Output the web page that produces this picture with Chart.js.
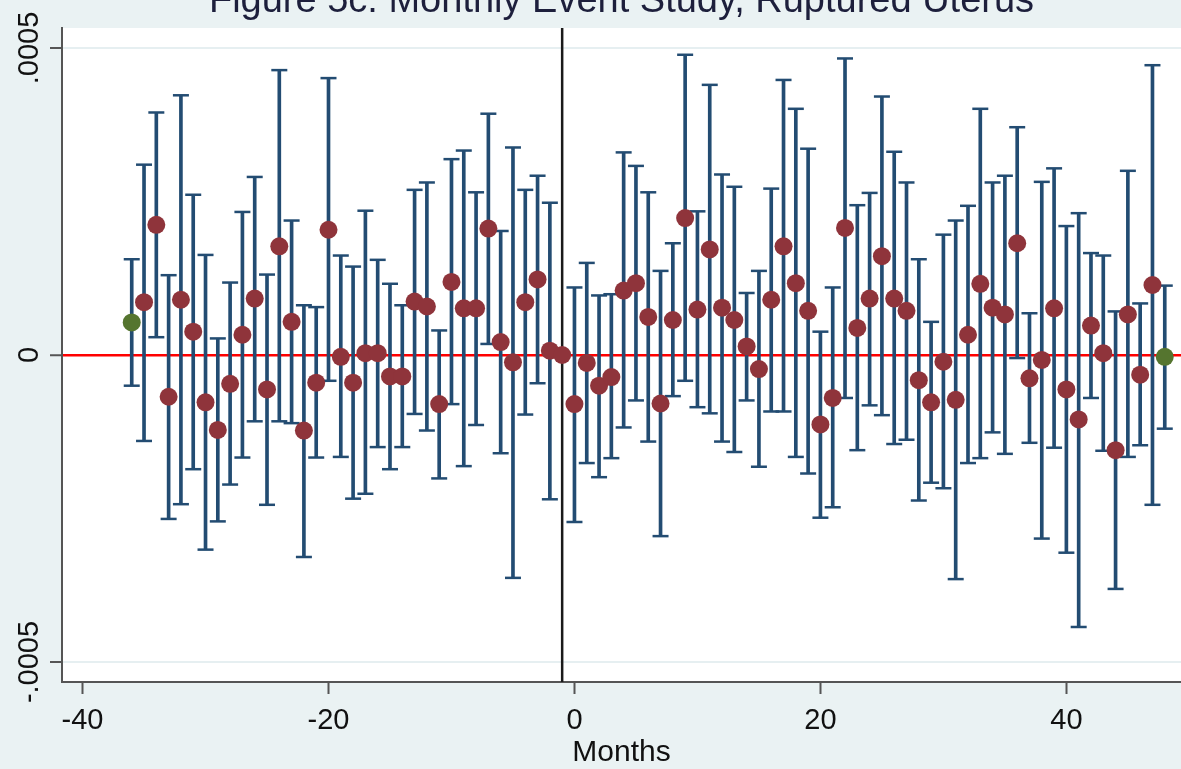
<!DOCTYPE html>
<html>
<head>
<meta charset="utf-8">
<script src="https://cdn.jsdelivr.net/npm/chart.js@4.4.1/dist/chart.umd.min.js"></script>
<style>
  html, body { margin: 0; padding: 0; background: #eaf2f3; overflow: hidden; }
  #wrap { width: 1181px; height: 769px; overflow: hidden; }
  canvas { display: block; margin-top: -21px; }
</style>
</head>
<body>
<div id="wrap"><canvas id="myChart" width="1181" height="790"></canvas></div>
<script>
const FONT = '"Liberation Sans", Arial, sans-serif';

// months relative to the event
const months = [
  -36, -35, -34, -33, -32, -31, -30, -29, -28, -27, -26, -25, -24, -23, -22, -21, -20,
  -19, -18, -17, -16, -15, -14, -13, -12, -11, -10, -9, -8, -7, -6, -5, -4, -3, -2, -1,
  0, 1, 2, 3, 4, 5, 6, 7, 8, 9, 10, 11, 12, 13, 14, 15, 16, 17, 18, 19, 20,
  21, 22, 23, 24, 25, 26, 27, 28, 29, 30, 31, 32, 33, 34, 35, 36, 37, 38, 39, 40,
  41, 42, 43, 44, 45, 46, 47, 48
];

// point estimates
const coef = [
  0.53e-4, 0.86e-4, 2.12e-4, -0.68e-4, 0.90e-4, 0.38e-4, -0.77e-4, -1.22e-4, -0.47e-4, 0.33e-4, 0.92e-4, -0.56e-4, 1.77e-4, 0.54e-4, -1.23e-4, -0.45e-4, 2.04e-4,
  -0.03e-4, -0.45e-4, 0.03e-4, 0.03e-4, -0.35e-4, -0.35e-4, 0.87e-4, 0.79e-4, -0.80e-4, 1.19e-4, 0.76e-4, 0.76e-4, 2.06e-4, 0.21e-4, -0.12e-4, 0.86e-4, 1.23e-4, 0.07e-4, 0,
  -0.80e-4, -0.13e-4, -0.50e-4, -0.36e-4, 1.05e-4, 1.17e-4, 0.62e-4, -0.79e-4, 0.57e-4, 2.23e-4, 0.74e-4, 1.72e-4, 0.77e-4, 0.57e-4, 0.14e-4, -0.23e-4, 0.90e-4, 1.77e-4, 1.17e-4, 0.72e-4, -1.13e-4,
  -0.70e-4, 2.07e-4, 0.44e-4, 0.92e-4, 1.61e-4, 0.92e-4, 0.72e-4, -0.41e-4, -0.77e-4, -0.11e-4, -0.73e-4, 0.33e-4, 1.16e-4, 0.77e-4, 0.66e-4, 1.82e-4, -0.38e-4, -0.08e-4, 0.76e-4, -0.56e-4,
  -1.05e-4, 0.48e-4, 0.03e-4, -1.55e-4, 0.66e-4, -0.32e-4, 1.14e-4, -0.03e-4
];

// 95% CI upper bounds (null = reference month, no interval)
const upper = [
  1.56e-4, 3.10e-4, 3.95e-4, 1.30e-4, 4.23e-4, 2.61e-4, 1.63e-4, 0.27e-4, 1.18e-4, 2.33e-4, 2.90e-4, 1.31e-4, 4.64e-4, 2.19e-4, 0.81e-4, 0.78e-4, 4.51e-4,
  1.62e-4, 1.44e-4, 2.35e-4, 1.55e-4, 1.16e-4, 0.81e-4, 2.69e-4, 2.81e-4, 0.40e-4, 3.19e-4, 3.33e-4, 2.65e-4, 3.93e-4, 2.02e-4, 3.38e-4, 2.69e-4, 2.92e-4, 2.48e-4, null,
  1.10e-4, 1.50e-4, 0.97e-4, 0.99e-4, 3.30e-4, 3.08e-4, 2.65e-4, 1.37e-4, 1.82e-4, 4.89e-4, 2.34e-4, 4.40e-4, 2.94e-4, 2.74e-4, 1.01e-4, 1.37e-4, 2.71e-4, 4.48e-4, 4.01e-4, 3.36e-4, 0.38e-4,
  1.10e-4, 4.83e-4, 2.44e-4, 2.64e-4, 4.21e-4, 3.31e-4, 2.81e-4, 1.56e-4, 0.54e-4, 1.96e-4, 2.19e-4, 2.43e-4, 4.01e-4, 2.81e-4, 2.92e-4, 3.71e-4, 0.68e-4, 2.82e-4, 3.04e-4, 2.10e-4,
  2.31e-4, 1.66e-4, 1.62e-4, 0.71e-4, 3.00e-4, 0.84e-4, 4.72e-4, 1.13e-4
];

// 95% CI lower bounds
const lower = [
  -0.50e-4, -1.40e-4, 0.29e-4, -2.67e-4, -2.43e-4, -1.86e-4, -3.17e-4, -2.71e-4, -2.11e-4, -1.67e-4, -1.08e-4, -2.44e-4, -1.08e-4, -1.11e-4, -3.29e-4, -1.67e-4, -0.42e-4,
  -1.66e-4, -2.34e-4, -2.26e-4, -1.50e-4, -1.86e-4, -1.50e-4, -0.96e-4, -1.23e-4, -2.01e-4, -0.80e-4, -1.81e-4, -1.14e-4, 0.18e-4, -1.60e-4, -3.63e-4, -0.97e-4, -0.46e-4, -2.35e-4, null,
  -2.72e-4, -1.76e-4, -1.99e-4, -1.68e-4, -1.18e-4, -0.74e-4, -1.41e-4, -2.95e-4, -0.67e-4, -0.42e-4, -0.85e-4, -0.95e-4, -1.41e-4, -1.58e-4, -0.74e-4, -1.82e-4, -0.92e-4, -0.92e-4, -1.66e-4, -1.93e-4, -2.65e-4,
  -2.48e-4, -0.70e-4, -1.55e-4, -0.82e-4, -0.98e-4, -1.45e-4, -1.38e-4, -2.37e-4, -2.08e-4, -2.17e-4, -3.65e-4, -1.76e-4, -1.68e-4, -1.26e-4, -1.61e-4, -0.05e-4, -1.43e-4, -2.99e-4, -1.51e-4, -3.22e-4,
  -4.43e-4, -0.70e-4, -1.56e-4, -3.81e-4, -1.66e-4, -1.47e-4, -2.44e-4, -1.20e-4
];

// binned end points are shown in green
const binnedMonths = [-36, 48];
const eventLine = -1;

const xTicks = [-40, -20, 0, 20, 40];
const yTicks = [-0.0005, 0, 0.0005];
const yTickLabels = ['-.0005', '0', '.0005'];

const navy = '#234c72';
const maroon = '#8f343b';
const green = '#55752f';

const withCI = months.map((m, i) => i).filter(i => upper[i] !== null);

const barData = withCI.map(i => ({ x: months[i], y: [lower[i], upper[i]] }));
const capData = withCI.flatMap(i => [{ x: months[i], y: lower[i] }, { x: months[i], y: upper[i] }]);
const pointData = months.map((m, i) => ({ x: m, y: coef[i] }));
const pointColors = months.map(m => binnedMonths.includes(m) ? green : maroon);

// white plot region on the grey-blue page
const plotBackground = {
  id: 'plotBackground',
  beforeDraw(chart) {
    const { ctx, chartArea: a } = chart;
    ctx.save();
    ctx.fillStyle = '#ffffff';
    ctx.fillRect(a.left, a.top, a.right - a.left, a.bottom - a.top);
    ctx.restore();
  }
};

// xline(-1)
const eventMarker = {
  id: 'eventMarker',
  beforeDatasetsDraw(chart) {
    const { ctx, chartArea: a, scales: { x } } = chart;
    const px = x.getPixelForValue(eventLine);
    ctx.save();
    ctx.strokeStyle = '#1a1a1a';
    ctx.lineWidth = 2.5;
    ctx.beginPath();
    ctx.moveTo(px, a.top);
    ctx.lineTo(px, a.bottom);
    ctx.stroke();
    ctx.restore();
  }
};

// Stata style vertical y labels
const rotatedYLabels = {
  id: 'rotatedYLabels',
  afterDraw(chart) {
    const { ctx, scales: { y } } = chart;
    ctx.save();
    ctx.font = '29px ' + FONT;
    ctx.fillStyle = '#111';
    ctx.textAlign = 'center';
    ctx.textBaseline = 'alphabetic';
    y.ticks.forEach(t => {
      ctx.save();
      ctx.translate(y.left + 38, y.getPixelForValue(t.value));
      ctx.rotate(-Math.PI / 2);
      ctx.fillText(yTickLabels[yTicks.indexOf(t.value)], 0, 0);
      ctx.restore();
    });
    ctx.restore();
  }
};

const ctx = document.getElementById('myChart').getContext('2d');

const myChart = new Chart(ctx, {
  type: 'scatter',
  data: {
    datasets: [
      {
        type: 'bar',
        data: barData,
        backgroundColor: navy,
        borderWidth: 0,
        barThickness: 3,
        grouped: false,
        order: 4
      },
      {
        data: capData,
        pointStyle: 'line',
        radius: 8,
        borderColor: navy,
        borderWidth: 2.5,
        order: 3
      },
      {
        data: pointData,
        radius: 9,
        backgroundColor: pointColors,
        borderWidth: 0,
        order: 1
      }
    ]
  },
  options: {
    responsive: false,
    animation: false,
    devicePixelRatio: 1,
    events: [],
    layout: { padding: 0, autoPadding: false },
    plugins: {
      legend: { display: false },
      tooltip: { enabled: false },
      title: {
        display: true,
        text: 'Figure 5c: Monthly Event Study, Ruptured Uterus',
        fullSize: false,
        color: '#1d1f3c',
        font: { family: FONT, size: 38, weight: 'normal', lineHeight: 1.2 },
        padding: { top: 0, bottom: 3.4 }
      }
    },
    scales: {
      x: {
        type: 'linear',
        min: -41.67,
        max: 49.32,
        offset: false,
        afterBuildTicks: s => { s.ticks = xTicks.map(v => ({ value: v })); },
        afterFit: s => {
          s.height = 87;
          s.paddingLeft = 0;
          s.paddingRight = 0;
        },
        ticks: {
          color: '#111',
          font: { family: FONT, size: 29 },
          padding: 9.4,
          maxRotation: 0,
          autoSkip: false
        },
        grid: {
          offset: false,
          drawOnChartArea: false,
          drawTicks: true,
          tickLength: 12,
          tickColor: '#555',
          tickWidth: 2
        },
        border: { display: true, color: '#555', width: 2 },
        title: {
          display: true,
          text: 'Months',
          color: '#111',
          font: { family: FONT, size: 30, lineHeight: 1 },
          padding: { top: 0, bottom: 1.2 }
        }
      },
      y: {
        type: 'linear',
        min: -0.0005326,
        max: 0.0005326,
        afterBuildTicks: s => { s.ticks = yTicks.map(v => ({ value: v })); },
        afterFit: s => { s.width = 62; },
        ticks: { display: false },
        grid: {
          color: c => c.tick.value === 0 ? '#ff0000' : '#e6eff1',
          lineWidth: c => c.tick.value === 0 ? 2.5 : 2,
          drawTicks: true,
          tickLength: 12,
          tickColor: '#555',
          tickWidth: 2
        },
        border: { display: true, color: '#555', width: 2 }
      }
    }
  },
  plugins: [plotBackground, eventMarker, rotatedYLabels]
});
</script>
</body>
</html>
